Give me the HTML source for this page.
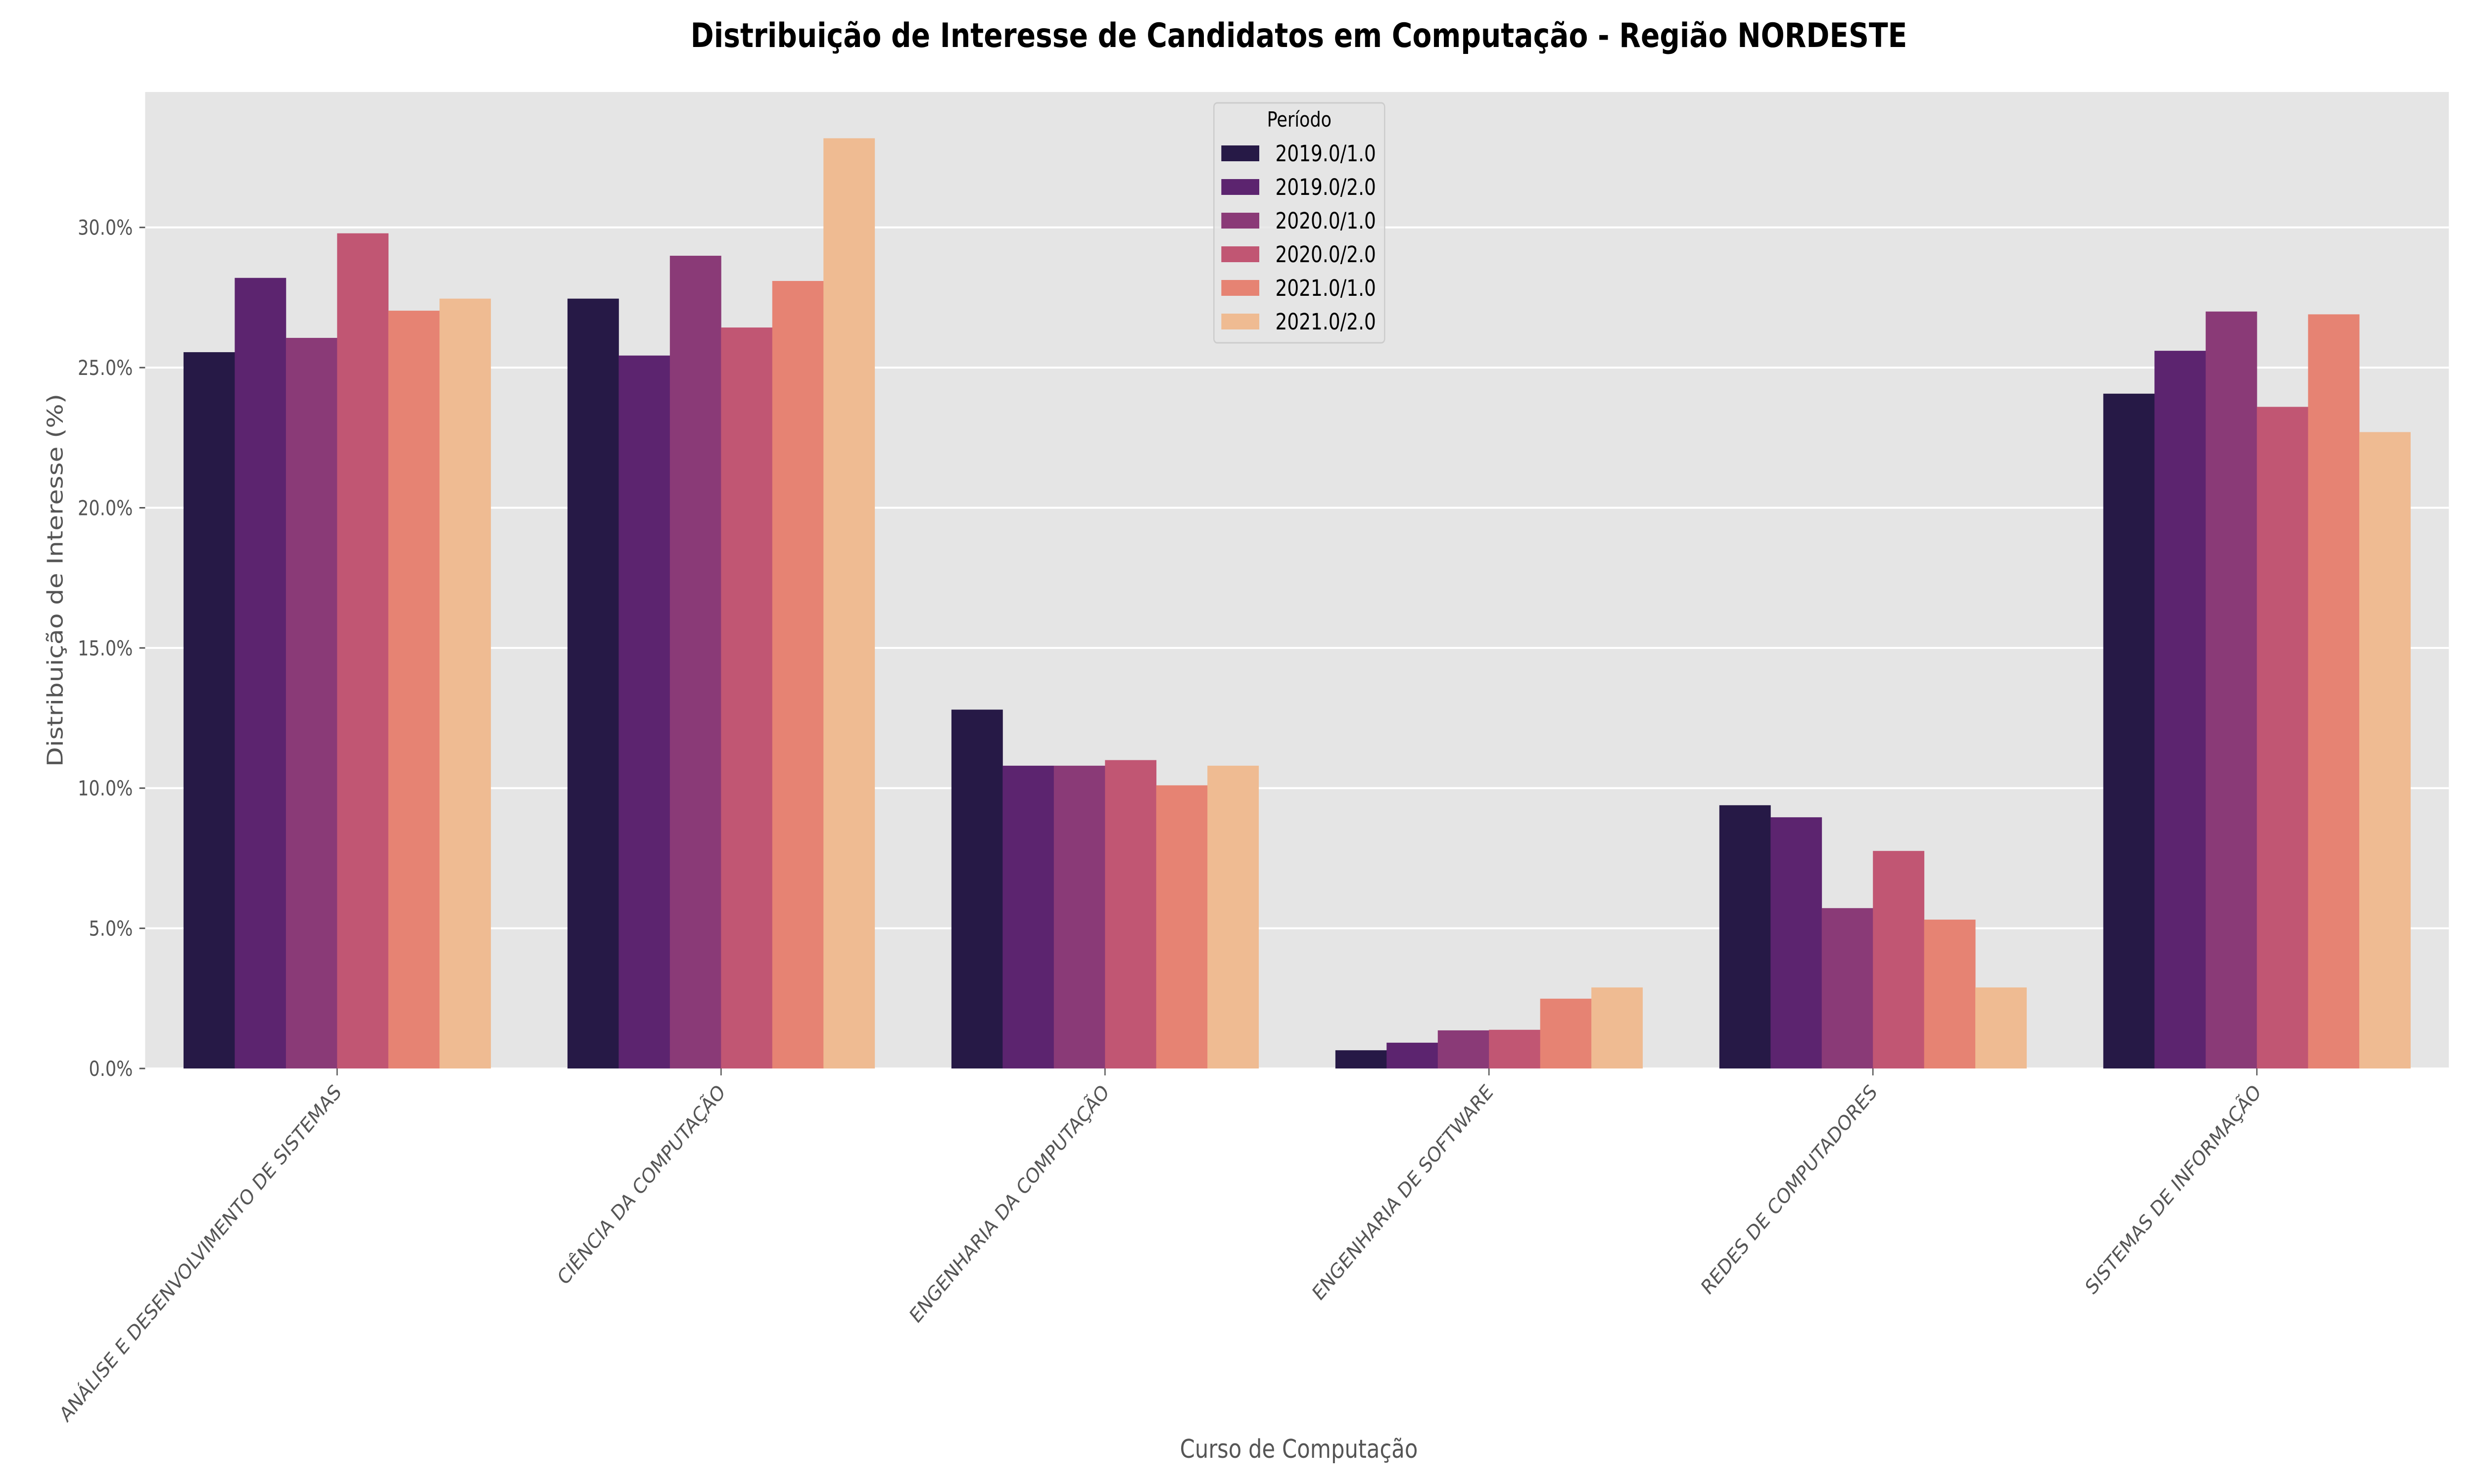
<!DOCTYPE html>
<html><head><meta charset="utf-8"><style>
html,body{margin:0;padding:0;background:#fff;width:100vw;height:100vh;overflow:hidden;}
svg{display:block;width:100vw;height:100vh;font-family:"DejaVu Sans","Liberation Sans",sans-serif;}
</style></head><body>
<svg id="chart" viewBox="0 0 6000 3000" preserveAspectRatio="none" xmlns="http://www.w3.org/2000/svg">
<rect width="6000" height="3000" fill="#fff"/>
<text x="3150" y="95" text-anchor="middle" font-size="68" font-weight="bold" fill="#000">Distribuição de Interesse de Candidatos em Computação - Região NORDESTE</text>
<rect x="352" y="186" width="5587" height="1974" fill="#e5e5e5"/>
<g id="grid"></g>
<g id="bars"></g>
<g id="yaxis"></g>
<g id="xaxis"></g>
<text transform="translate(152,1173) rotate(-90)" text-anchor="middle" font-size="52" fill="#555">Distribuição de Interesse (%)</text>
<text x="3150" y="2947" text-anchor="middle" font-size="52" fill="#555">Curso de Computação</text>
<g id="legend"></g>
</svg>
<script>
const categories = ["ANÁLISE E DESENVOLVIMENTO DE SISTEMAS","CIÊNCIA DA COMPUTAÇÃO","ENGENHARIA DA COMPUTAÇÃO","ENGENHARIA DE SOFTWARE","REDES DE COMPUTADORES","SISTEMAS DE INFORMAÇÃO"];
const periods = ["2019.0/1.0","2019.0/2.0","2020.0/1.0","2020.0/2.0","2021.0/1.0","2021.0/2.0"];
const s2019_1 = [25.55, 27.46, 12.8, 0.65, 9.39, 24.07];
const s2019_2 = [28.2, 25.43, 10.8, 0.92, 8.96, 25.6];
const s2020_1 = [26.06, 28.99, 10.8, 1.36, 5.72, 27.0];
const s2020_2 = [29.79, 26.43, 11.0, 1.38, 7.76, 23.6];
const s2021_1 = [27.03, 28.09, 10.1, 2.49, 5.31, 26.9];
const s2021_2 = [27.46, 33.18, 10.8, 2.89, 2.89, 22.7];
const yTicks = [0, 5, 10, 15, 20, 25, 30];
const yTickLabels = ["0.0%","5.0%","10.0%","15.0%","20.0%","25.0%","30.0%"];
const colors = ["#261946","#5c246f","#8a3a77","#c15673","#e68373","#efbb92"];

const series = [s2019_1, s2019_2, s2020_1, s2020_2, s2021_1, s2021_2];
const NS = "http://www.w3.org/2000/svg";
const X0 = 352, X1 = 5939, Y0 = 2160, YTOP = 186, YMAX = 34.83;
const groupW = (X1 - X0) / categories.length;
function xCenter(i){ return X0 + groupW * (i + 0.5); }
function yScale(v){ return Y0 - (v / YMAX) * (Y0 - YTOP); }
function mk(tag, attrs, parent){ const e = document.createElementNS(NS, tag); for (const k in attrs) e.setAttribute(k, attrs[k]); parent.appendChild(e); return e; }

const grid = document.getElementById('grid');
const yaxis = document.getElementById('yaxis');
yTicks.forEach((t, i) => {
  const y = yScale(t);
  const gl = mk('line', {x1: X0, x2: X1, y1: y, y2: y, stroke: '#fff', 'stroke-width': 4}, grid);
  
  
  const tk = mk('line', {x1: X0 - 14, x2: X0, y1: y, y2: y, stroke: '#555', 'stroke-width': 3}, yaxis);
  
  
  const tl = mk('text', {x: X0 - 30, y: y + 15, 'text-anchor': 'end', 'font-size': 42, fill: '#555'}, yaxis);
  tl.textContent = yTickLabels[i];
  
  
});

const bars = document.getElementById('bars');
const barW = groupW * 0.8 / periods.length;
series.forEach((vals, s) => {
  vals.forEach((v, i) => {
    const x = xCenter(i) - groupW * 0.4 + s * barW;
    const y = yScale(v);
    const r = mk('rect', {x: x, y: y, width: barW + 0.5, height: Y0 - y, fill: colors[s]}, bars);
    
    
  });
});

const xaxis = document.getElementById('xaxis');
categories.forEach((c, i) => {
  const cx = xCenter(i);
  const tk = mk('line', {x1: cx, x2: cx, y1: Y0, y2: Y0 + 14, stroke: '#555', 'stroke-width': 3}, xaxis);
  
  
  const tl = mk('text', {transform: 'translate(' + (cx + 12) + ',' + (Y0 + 50) + ') rotate(-45)', 'text-anchor': 'end', 'font-size': 42, fill: '#555'}, xaxis);
  tl.textContent = c;
  
  
});

const legend = document.getElementById('legend');
mk('rect', {x: 2944, y: 208, width: 414, height: 485, rx: 8, fill: '#e5e5e5', 'fill-opacity': 0.8, stroke: '#cccccc', 'stroke-width': 3}, legend);
const lt = mk('text', {x: 3151, y: 256, 'text-anchor': 'middle', 'font-size': 42, fill: '#000'}, legend);
lt.textContent = 'Período';


periods.forEach((p, s) => {
  const y = 294 + s * 68;
  const sw = mk('rect', {x: 2962, y: y, width: 92, height: 32, fill: colors[s]}, legend);
  
  
  const t = mk('text', {x: 3093, y: y + 32, 'font-size': 45, fill: '#000'}, legend);
  t.textContent = p;
  
  
});
</script>
</body></html>
